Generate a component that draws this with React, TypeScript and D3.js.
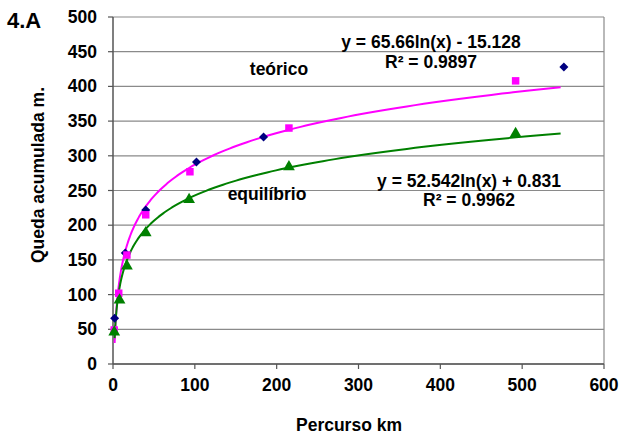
import * as d3 from "d3";

// teórico (diamonds)
const teoricoX = [2, 15, 40, 102, 184, 551];
const teoricoY = [66, 160, 222, 291, 327, 428];
// teórico (squares)
const quadX = [1.5, 7, 17, 40, 94, 215, 492];
const quadY = [49, 102, 157, 215, 277, 340, 408];
// equilíbrio (triangles)
const equilX = [1.5, 8, 17, 40, 93, 215, 492];
const equilY = [46, 92, 141, 189, 237, 284, 332];

const xTicks = [0, 100, 200, 300, 400, 500, 600];
const yTicks = [0, 50, 100, 150, 200, 250, 300, 350, 400, 450, 500];

// trend lines (log fits shown on the chart)
const trendTeorico = { a: 65.66, b: -15.128, from: 2, to: 547 };
const trendEquil = { a: 52.542, b: 0.831, from: 2, to: 547 };

const W = 621;
const H = 434;
const margin = { top: 17, right: 17, bottom: 70, left: 113 };
const font = "Arial, 'Liberation Sans', sans-serif";
const fs = 17.5;

function trendPoints(t: { a: number; b: number; from: number; to: number }) {
  const pts: [number, number][] = [];
  const n = 200;
  for (let i = 0; i <= n; i++) {
    const x = t.from * Math.pow(t.to / t.from, i / n);
    pts.push([x, t.a * Math.log(x) + t.b]);
  }
  return pts;
}

export default function App() {
  const x = d3.scaleLinear().domain([0, 600]).range([margin.left, W - margin.right]);
  const y = d3.scaleLinear().domain([0, 500]).range([H - margin.bottom, margin.top]);
  const line = d3.line<[number, number]>().x((d) => x(d[0])).y((d) => y(d[1]));

  const square = d3.symbol().type(d3.symbolSquare).size(56)()!;
  const triangle = d3.symbol().type(d3.symbolTriangle).size(60)()!;

  const x0 = x(0), x1 = x(600), y0 = y(0), y1 = y(500);

  return (
    <svg width={W} height={H} style={{ position: "absolute", left: 0, top: 0, background: "#fff" }}>
      <text x={7} y={28} fontFamily={font} fontWeight="bold" fontSize={22}>4.A</text>

      {yTicks.map((t) => (
        <g key={`y${t}`}>
          <line x1={x0} x2={x1} y1={y(t)} y2={y(t)} stroke="#8a8a8a" strokeWidth={1.2} />
          <line x1={x0 - 5} x2={x0} y1={y(t)} y2={y(t)} stroke="#555" strokeWidth={1.2} />
          <text x={97} y={y(t) + 6} textAnchor="end" fontFamily={font} fontWeight="bold" fontSize={fs}>{t}</text>
        </g>
      ))}
      <line x1={x1} x2={x1} y1={y1} y2={y0} stroke="#8a8a8a" strokeWidth={1.2} />
      {xTicks.map((t) => (
        <g key={`x${t}`}>
          <line x1={x(t)} x2={x(t)} y1={y0} y2={y0 + 5} stroke="#555" strokeWidth={1.2} />
          <text x={x(t)} y={391} textAnchor="middle" fontFamily={font} fontWeight="bold" fontSize={fs}>{t}</text>
        </g>
      ))}
      <line x1={x0} x2={x0} y1={y1} y2={y0} stroke="#555" strokeWidth={1.5} />
      <line x1={x0} x2={x1} y1={y0} y2={y0} stroke="#555" strokeWidth={1.5} />

      <path d={line(trendPoints(trendTeorico))!} fill="none" stroke="#ff00ff" strokeWidth={2} />
      <path d={line(trendPoints(trendEquil))!} fill="none" stroke="#008000" strokeWidth={2} />

      {teoricoX.map((v, i) => (
        <path key={`d${i}`} d={square} transform={`translate(${x(v)},${y(teoricoY[i])}) rotate(45) scale(0.85)`} fill="#000080" />
      ))}
      {quadX.map((v, i) => (
        <path key={`s${i}`} d={square} transform={`translate(${x(v)},${y(quadY[i])})`} fill="#ff00ff" />
      ))}
      {equilX.map((v, i) => (
        <path key={`t${i}`} d={triangle} transform={`translate(${x(v)},${y(equilY[i])})`} fill="#008000" />
      ))}

      <text x={431} y={48} textAnchor="middle" fontFamily={font} fontWeight="bold" fontSize={fs}>y = 65.66ln(x) - 15.128</text>
      <text x={431} y={68} textAnchor="middle" fontFamily={font} fontWeight="bold" fontSize={fs}>R² = 0.9897</text>
      <text x={279} y={75} textAnchor="middle" fontFamily={font} fontWeight="bold" fontSize={fs}>teórico</text>
      <text x={267} y={200} textAnchor="middle" fontFamily={font} fontWeight="bold" fontSize={fs}>equilíbrio</text>
      <text x={469} y={187} textAnchor="middle" fontFamily={font} fontWeight="bold" fontSize={fs}>y = 52.542ln(x) + 0.831</text>
      <text x={469} y={206} textAnchor="middle" fontFamily={font} fontWeight="bold" fontSize={fs}>R² = 0.9962</text>

      <text x={349} y={431} textAnchor="middle" fontFamily={font} fontWeight="bold" fontSize={fs}>Percurso km</text>
      <text transform={`translate(44,175) rotate(-90)`} textAnchor="middle" fontFamily={font} fontWeight="bold" fontSize={fs}>Queda acumulada m.</text>
    </svg>
  );
}
